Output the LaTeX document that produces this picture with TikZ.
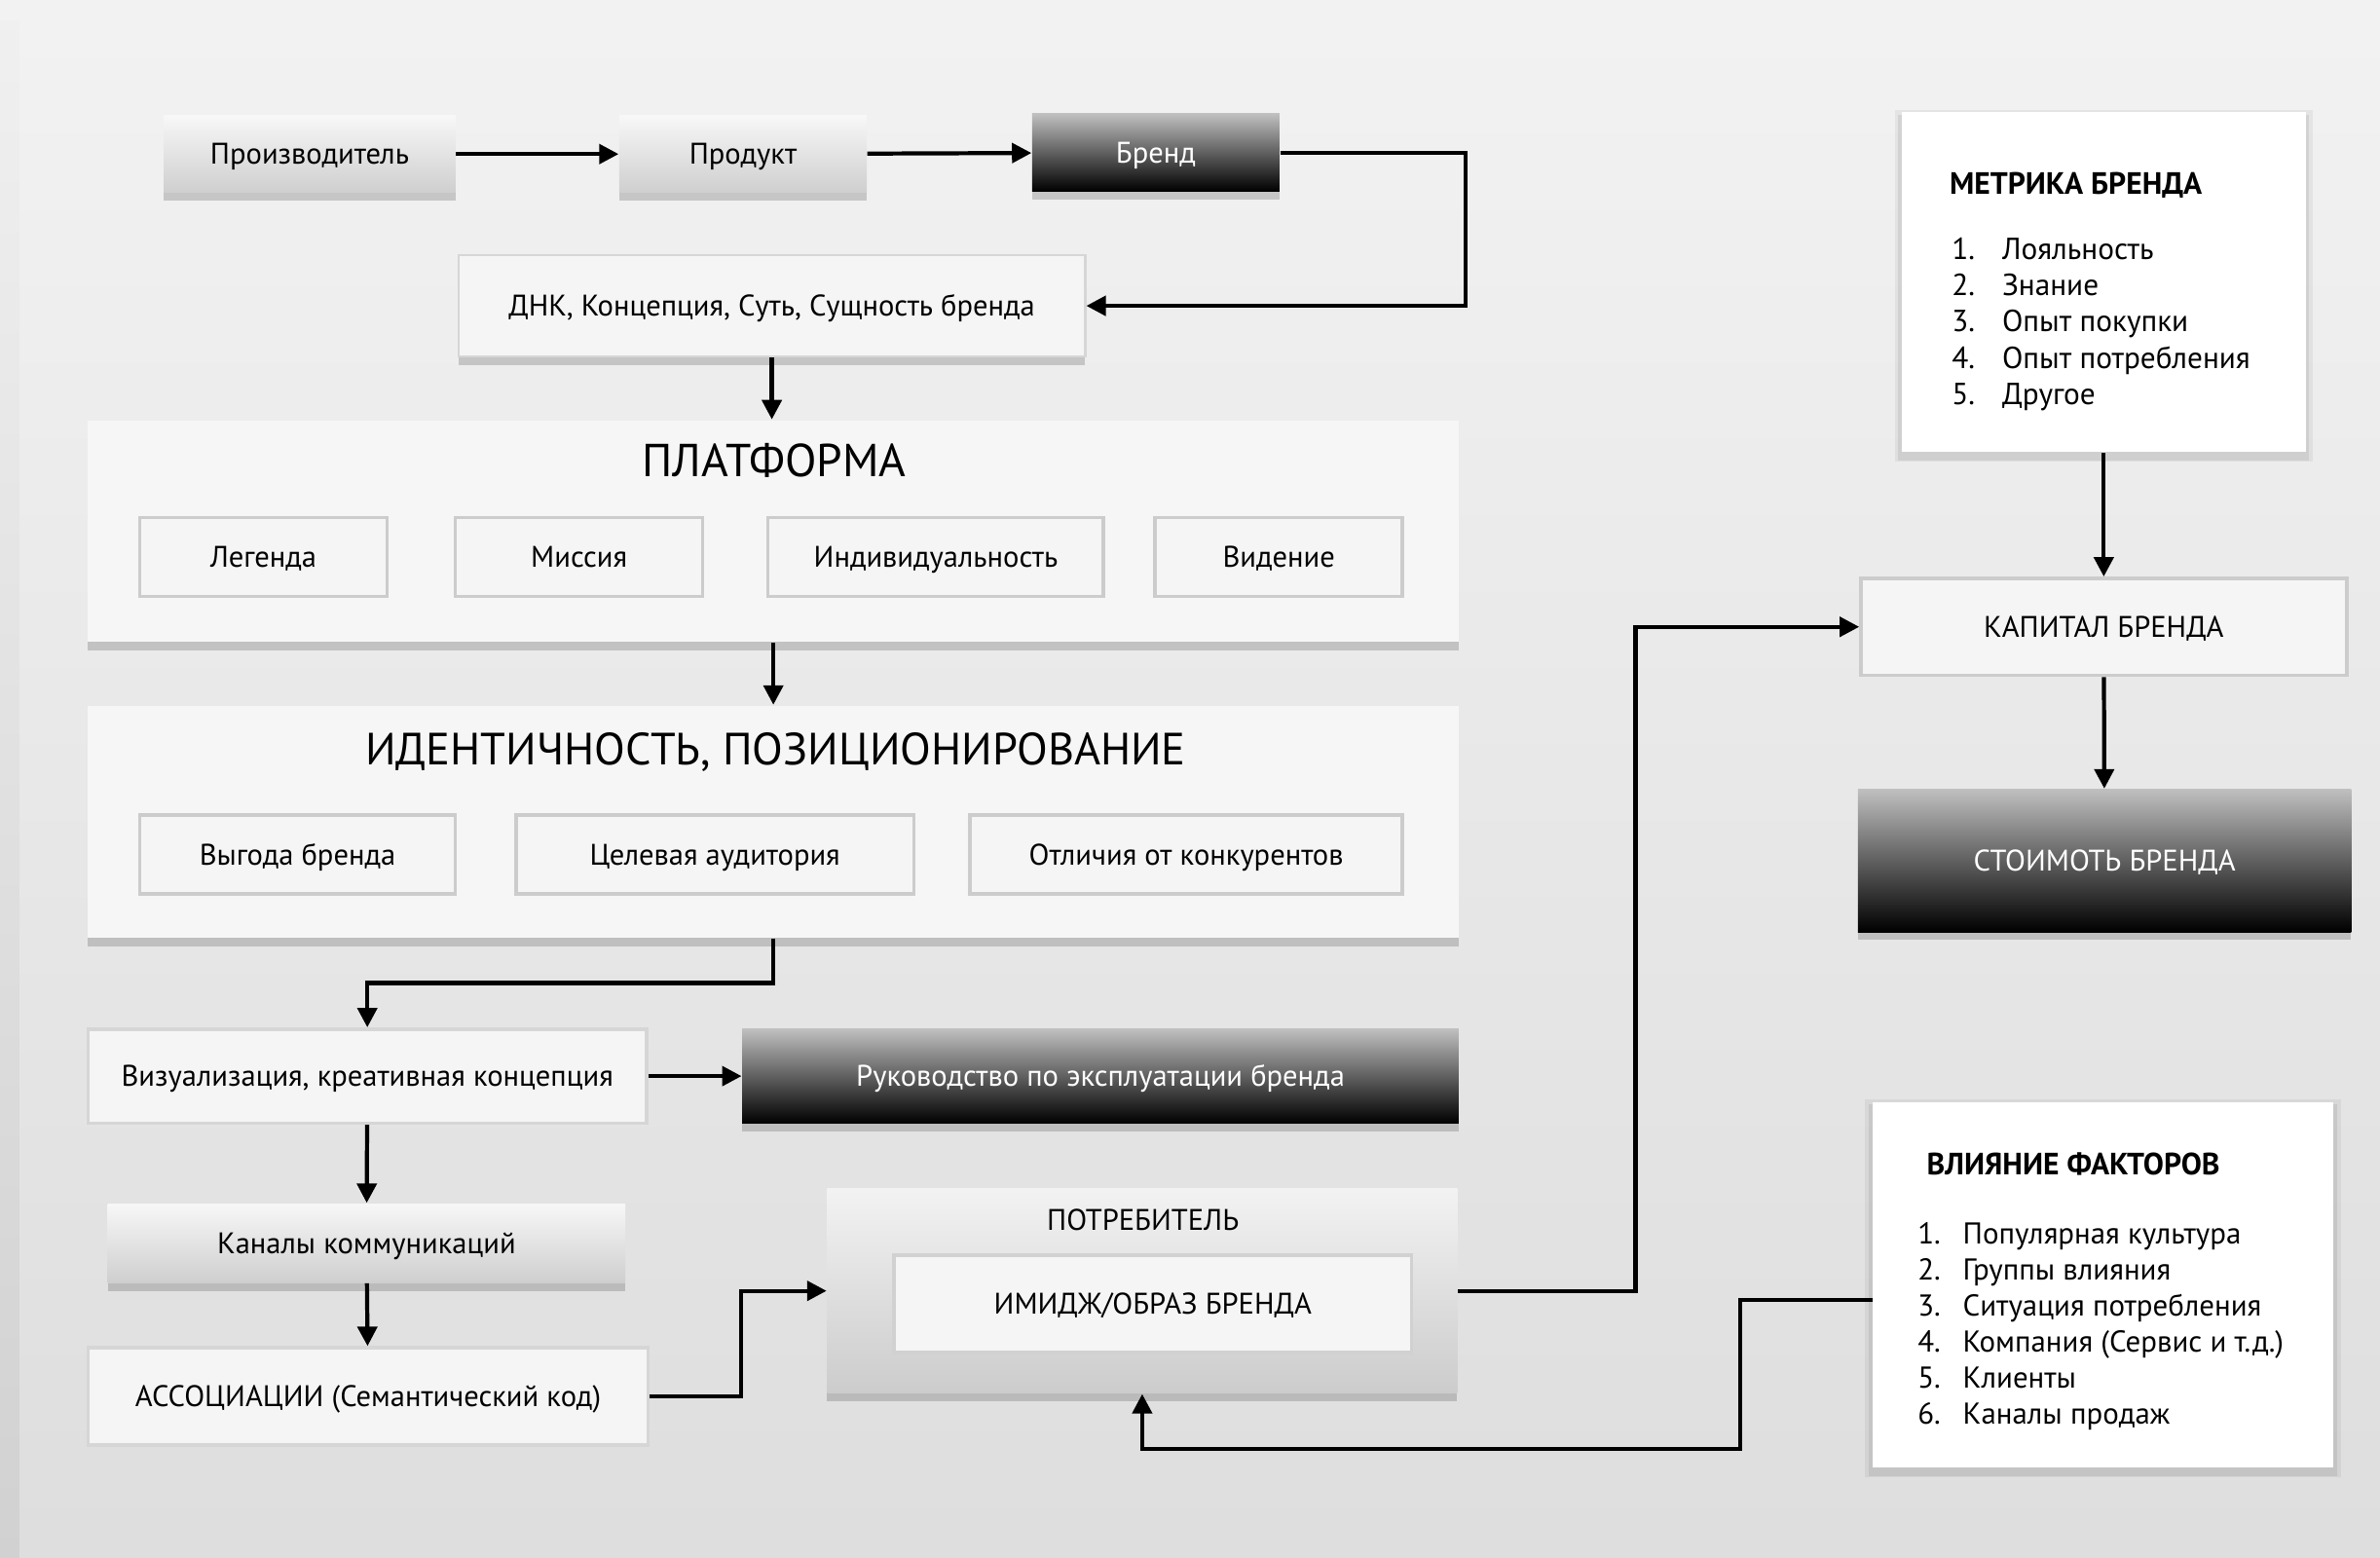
\documentclass[tikz,border=0pt]{standalone}
\usepackage{fontspec}
\setmainfont{PT Sans}
\usetikzlibrary{arrows.meta,shadows}
\newlength\unitpx
\setlength\unitpx{0.015587cm}

\begin{document}
\begin{tikzpicture}[x=0.015587cm, y=-0.015587cm,
		wh/.style 2 args={minimum width=#1*\unitpx, minimum height=#2*\unitpx},
		lbl/.style={inner sep=0pt, text height=0.8em, text depth=0.2em, font=\fontsize{8.7}{11}\selectfont},
		shadowed/.style={drop shadow={shadow xshift=0pt, shadow yshift=-2.4pt, opacity=0.25, fill=black!70, shade=false}},
		lightbox/.style={lbl, fill=black!4, draw=black!16, line width=0.6pt, shadowed},
		gradbox/.style={lbl, top color=black!3, bottom color=black!19, shadowed},
		darkbox/.style={lbl, top color=black!25, bottom color=black, text=white, shadowed},
		subbox/.style={lbl, fill=black!4, draw=black!20, line width=1pt},
		listbox/.style={fill=white,
			drop shadow={shadow xshift=0pt, shadow yshift=-1pt, shadow scale=1.035, opacity=0.05, fill=black},
			drop shadow={shadow xshift=0pt, shadow yshift=-1.5pt, shadow scale=1.018, opacity=0.07, fill=black}},
		arr/.style={line width=1.2pt, -{Triangle[length=2mm, width=2mm]}},
	]
			%%%%% START %%%%%
			
			\useasboundingbox (0,0) rectangle (1568,1026);
			\fill[top color=black!5, bottom color=black!13] (0,0) rectangle (1568,1026);
			\fill[top color=black!6, bottom color=black!18] (0,14) rectangle (12.8,1026);
			
			% top row
			\node[gradbox, wh={192}{51}] (maker) at (204,101.5) {Производитель};
			\node[gradbox, wh={163}{51}] (product) at (489.5,101.5) {Продукт};
			\node[darkbox, wh={163}{51}] (brand) at (761.5,100.5) {Бренд};
			\node[lightbox, wh={413}{67}] (dna) at (508.5,201.5) {ДНК, Концепция, Суть, Сущность бренда};
			
			% platform
			\node[lightbox, draw=none, fill=black!3.5, wh={903}{146}] (platform) at (509.5,350) {};
			\node[lbl, font=\fontsize{13.5}{15}\selectfont] (platformtitle) at (510,307) {ПЛАТФОРМА};
			\node[subbox, wh={163}{52}] (legend) at (173.5,367) {Легенда};
			\node[subbox, wh={163}{52}] (mission) at (381.5,367) {Миссия};
			\node[subbox, wh={221}{52}] (individ) at (616.5,367) {Индивидуальность};
			\node[subbox, wh={163}{52}] (vision) at (842.5,367) {Видение};
			
			% identity
			\node[lightbox, draw=none, fill=black!3.5, wh={903}{153}] (identity) at (509.5,541.5) {};
			\node[lbl, font=\fontsize{13.2}{15}\selectfont] (identitytitle) at (511,497) {ИДЕНТИЧНОСТЬ, ПОЗИЦИОНИРОВАНИЕ};
			\node[subbox, wh={208}{52}] (benefit) at (196,563) {Выгода бренда};
			\node[subbox, wh={262}{52}] (audience) at (471,563) {Целевая аудитория};
			\node[subbox, wh={285}{52}] (differ) at (781.5,563) {Отличия от конкурентов};
			
			% lower left
			\node[subbox, draw=black!16, wh={368}{62}] (visual) at (242,709) {Визуализация, креативная концепция};
			\node[darkbox, wh={472}{62}] (guide) at (725,709) {Руководство по эксплуатации бренда};
			\node[gradbox, wh={341}{52}] (channels) at (241.5,819) {Каналы коммуникаций};
			\node[subbox, draw=black!16, wh={369}{64}] (assoc) at (242.5,920) {АССОЦИАЦИИ (Семантический код)};
			
			% consumer
			\node[gradbox, top color=black!5, bottom color=black!20, wh={415}{135}] (consumer) at (752.5,850.5) {};
			\node[lbl] (consumertitle) at (753,804) {ПОТРЕБИТЕЛЬ};
			\node[subbox, draw=black!18, wh={341}{64}] (image) at (759.5,859) {ИМИДЖ/ОБРАЗ БРЕНДА};
			
			% right column
			\node[listbox, wh={266}{224}] (metrics) at (1386,186) {};
			\node[lbl, anchor=west, font=\bfseries\fontsize{9}{11}\selectfont] (metricstitle) at (1284,121) {МЕТРИКА БРЕНДА};
			\node[anchor=west, inner sep=0pt, font=\fontsize{8.9}{10.55}\selectfont] (metricslist) at (1285.5,214) {\begin{tabular}{@{}p{14.7pt}@{}l@{}}
				1. & Лояльность\\
				2. & Знание\\
				3. & Опыт покупки\\
				4. & Опыт потребления\\
				5. & Другое
			\end{tabular}};
			\node[subbox, wh={320}{64}] (capital) at (1386,413) {КАПИТАЛ БРЕНДА};
			\node[darkbox, wh={325}{94}] (value) at (1386.5,567) {СТОИМОТЬ БРЕНДА};
			
			\node[listbox, wh={303}{241}] (factors) at (1385.5,846.5) {};
			\node[lbl, anchor=west, font=\bfseries\fontsize{9}{11}\selectfont] (factorstitle) at (1269,767.5) {ВЛИЯНИЕ ФАКТОРОВ};
			\node[anchor=west, inner sep=0pt, font=\fontsize{8.8}{10.55}\selectfont] (factorslist) at (1263,874) {\begin{tabular}{@{}p{13.2pt}@{}l@{}}
				1. & Популярная культура\\
				2. & Группы влияния\\
				3. & Ситуация потребления\\
				4. & Компания (Сервис и т.д.)\\
				5. & Клиенты\\
				6. & Каналы продаж
			\end{tabular}};
			
			% connectors
			\draw[arr] (maker) -- (product);
			\draw[arr] (product) -- (brand);
			\draw[arr] (brand.east) -- ++(122,0) |- (dna.east);
			\draw[arr] (dna.south) -- (dna.south |- platform.north);
			\draw[arr] (platform) -- (identity);
			\draw[arr] (identity.south) -- ++(0,29) -| (visual.north);
			\draw[arr] (visual) -- (guide);
			\draw[arr] (visual) -- (channels);
			\draw[arr] (channels) -- (assoc);
			\draw[arr] (assoc.east) -- ++(60,0) |- (consumer.west);
			\draw[arr] (consumer.east) -- ++(117,0) |- (capital.west);
			\draw[arr] (metrics) -- (capital);
			\draw[arr] (capital) -- (value);
			\draw[arr] ([yshift=-10*\unitpx]factors.west) -| ++(-87,98) -| (consumer.south);
			
			%%%%% END %%%%%
\end{tikzpicture}
\end{document}
